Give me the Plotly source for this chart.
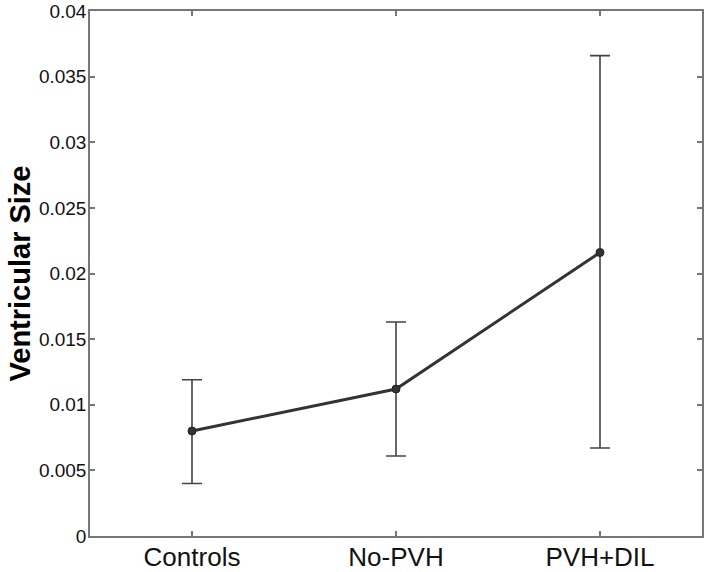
import plotly.graph_objects as go

categories = ["Controls", "No-PVH", "PVH+DIL"]
means = [0.0080, 0.0112, 0.0216]
err_plus = [0.0039, 0.0051, 0.0150]
err_minus = [0.0040, 0.0051, 0.0149]
y_ticks = [0, 0.005, 0.01, 0.015, 0.02, 0.025, 0.03, 0.035, 0.04]
y_tick_text = ["0", "0.005", "0.01", "0.015", "0.02", "0.025", "0.03", "0.035", "0.04"]

x_pos = list(range(1, len(categories) + 1))

fig = go.Figure()
fig.add_trace(go.Scatter(
    x=x_pos, y=means,
    mode="lines+markers",
    line=dict(color="#333333", width=3),
    marker=dict(color="#333333", size=8, symbol="circle",
                line=dict(color="#222222", width=1)),
    error_y=dict(type="data", symmetric=False, array=err_plus, arrayminus=err_minus,
                 color="#444444", thickness=1.6, width=10),
    showlegend=False,
))

axis_common = dict(
    showline=True, linecolor="#777777", linewidth=1.5, mirror="ticks",
    ticks="inside", ticklen=5, tickcolor="#777777", tickwidth=1.5,
    showgrid=False, zeroline=False, automargin=False,
)

fig.update_layout(
    width=706, height=572,
    margin=dict(l=90, r=4, t=11, b=36),
    paper_bgcolor="white", plot_bgcolor="white",
    font=dict(family="Liberation Sans, Arial, sans-serif", color="#111111"),
    xaxis=dict(range=[0.5, 3.5], tickvals=x_pos, ticktext=categories,
               tickfont=dict(size=26, color="#111111"), ticklabelstandoff=-3, **axis_common),
    yaxis=dict(range=[0, 0.04], tickvals=y_ticks, ticktext=y_tick_text,
               tickfont=dict(size=19, color="#111111"), ticklabelstandoff=-2,
               title=dict(text="<b>Ventricular Size</b>", font=dict(size=29, color="#000000"), standoff=0),
               **axis_common),
)

fig.write_html("out.html", config={"displayModeBar": False},
               post_script="document.body.style.margin='0';document.body.style.padding='0';document.body.style.overflow='hidden';")
